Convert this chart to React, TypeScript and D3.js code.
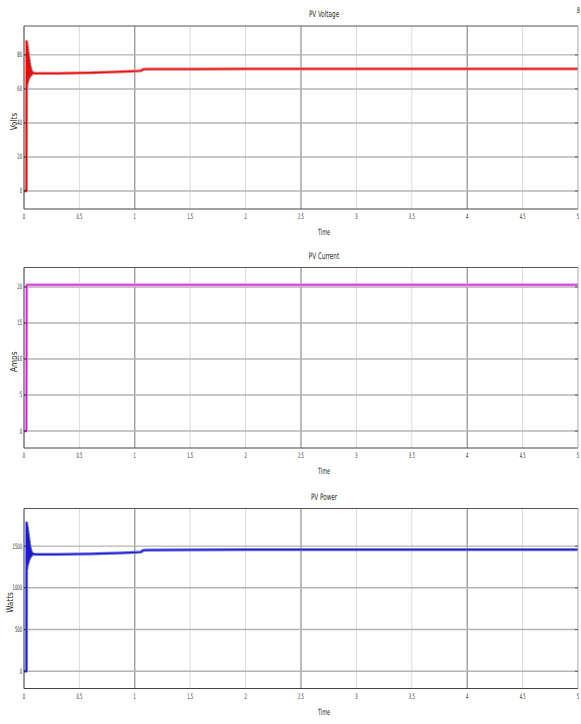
import React from "react";
import * as d3 from "d3";

// time axis
const timeTicks = [0, 0.5, 1, 1.5, 2, 2.5, 3, 3.5, 4, 4.5, 5];
const timeLabels = ["0", "0.5", "1", "1.5", "2", "2.5", "3", "3.5", "4", "4.5", "5"];

// PV voltage [time, volts]
const voltageData: [number, number][] = [
  [0, 0], [0.022, 0], [0.024, 88], [0.026, 61], [0.028, 86.5], [0.03, 63],
  [0.032, 85], [0.034, 64], [0.036, 83], [0.038, 65], [0.04, 81], [0.042, 66],
  [0.044, 79], [0.046, 66.5], [0.048, 77], [0.05, 67], [0.052, 75], [0.054, 67.5],
  [0.056, 73.5], [0.058, 68], [0.06, 72.5], [0.062, 68], [0.064, 71.5], [0.066, 68.5],
  [0.068, 70.8], [0.07, 68.6], [0.072, 70.2], [0.075, 68.8], [0.08, 69.6], [0.1, 69.2],
  [0.3, 69.2], [0.6, 69.5], [0.9, 70.2], [1.04, 70.6], [1.06, 70.8], [1.075, 71.5],
  [1.1, 71.6], [1.5, 71.7], [2, 71.8], [3, 71.8], [5, 71.8],
];
const voltageTicks = [0, 20, 40, 60, 80];

// PV current [time, amps]
const currentData: [number, number][] = [
  [0, 0], [0.022, 0], [0.025, 20.3], [1, 20.3], [3, 20.3], [5, 20.3],
];
const currentTicks = [0, 5, 10, 15, 20];

// PV power [time, watts]
const powerData: [number, number][] = [
  [0, 0], [0.022, 0], [0.024, 1780], [0.026, 1230], [0.028, 1750], [0.03, 1260],
  [0.032, 1720], [0.034, 1280], [0.036, 1680], [0.038, 1300], [0.04, 1640], [0.042, 1320],
  [0.044, 1600], [0.046, 1335], [0.048, 1560], [0.05, 1350], [0.052, 1520], [0.054, 1360],
  [0.056, 1490], [0.058, 1370], [0.06, 1465], [0.062, 1378], [0.064, 1445], [0.066, 1385],
  [0.068, 1430], [0.07, 1390], [0.072, 1420], [0.075, 1395], [0.08, 1410], [0.1, 1400],
  [0.3, 1400], [0.6, 1408], [0.9, 1420], [1.04, 1427], [1.06, 1432], [1.075, 1450],
  [1.1, 1452], [1.5, 1455], [2, 1458], [3, 1458], [5, 1458],
];
const powerTicks = [0, 500, 1000, 1500];

const W = 581;
const H = 724;
const LEFT = 24;
const RIGHT = 578;
const FONT = "'DejaVu Sans Condensed', 'Liberation Sans', sans-serif";

// squeezed text, the scanned figure has very narrow lettering
function Txt(props: {
  x: number;
  y: number;
  size: number;
  sx: number;
  anchor?: string;
  rotate?: number;
  children: React.ReactNode;
}) {
  const rot = props.rotate ? ` rotate(${props.rotate})` : "";
  return (
    <text
      transform={`translate(${props.x},${props.y})${rot} scale(${props.sx},1)`}
      fontSize={props.size}
      textAnchor={props.anchor || "middle"}
      fill="#2a2a2a"
      fontFamily={FONT}
    >
      {props.children}
    </text>
  );
}

type PanelProps = {
  top: number;
  bottom: number;
  domain: [number, number];
  data: [number, number][];
  ticks: number[];
  color: string;
  halo: string;
  title: string;
  ylabel: string;
  ylabelX: number;
};

function Panel(p: PanelProps) {
  const x = d3.scaleLinear().domain([0, 5]).range([LEFT, RIGHT]);
  const y = d3.scaleLinear().domain(p.domain).range([p.bottom, p.top]);
  const line = d3
    .line<[number, number]>()
    .x((d) => x(d[0]))
    .y((d) => y(d[1]));
  const path = line(p.data) || "";
  const darkV = [1, 2.5, 4];
  const cx = (LEFT + RIGHT) / 2 + 23;
  return (
    <g>
      <Txt x={cx} y={p.top - 9} size={9} sx={0.7}>
        {p.title}
      </Txt>
      {timeTicks.map((t) => (
        <line
          key={"v" + t}
          x1={x(t)}
          x2={x(t)}
          y1={p.top}
          y2={p.bottom}
          stroke={darkV.includes(t) ? "#6a6a6a" : "#d2d2d2"}
          strokeWidth={darkV.includes(t) ? 0.9 : 0.8}
        />
      ))}
      {p.ticks.map((v) => (
        <line key={"h" + v} x1={LEFT} x2={RIGHT} y1={y(v)} y2={y(v)} stroke="#b4b4b4" strokeWidth={1.4} />
      ))}
      <path d={path} fill="none" stroke={p.halo} strokeWidth={3.2} strokeLinejoin="round" />
      <path d={path} fill="none" stroke={p.color} strokeWidth={1.3} strokeLinejoin="round" />
      <line x1={LEFT} x2={RIGHT} y1={p.top} y2={p.top} stroke="#555" strokeWidth={1} />
      <line x1={LEFT} x2={RIGHT} y1={p.bottom} y2={p.bottom} stroke="#444" strokeWidth={1} />
      <line x1={LEFT} x2={LEFT} y1={p.top} y2={p.bottom} stroke="#444" strokeWidth={1} />
      <line x1={RIGHT} x2={RIGHT} y1={p.top} y2={p.bottom} stroke="#bbb" strokeWidth={1} />
      {p.ticks.map((v) => (
        <g key={"t" + v}>
          <line x1={LEFT} x2={LEFT + 3} y1={y(v)} y2={y(v)} stroke="#333" strokeWidth={1} />
          <line x1={RIGHT - 3} x2={RIGHT} y1={y(v)} y2={y(v)} stroke="#555" strokeWidth={1} />
          <Txt x={LEFT - 2} y={y(v) + 2.5} size={7.5} sx={0.55} anchor="end">
            {v}
          </Txt>
        </g>
      ))}
      {timeTicks.map((t, i) => (
        <Txt key={"x" + t} x={x(t)} y={p.bottom + 10} size={7.5} sx={0.55}>
          {timeLabels[i]}
        </Txt>
      ))}
      <Txt x={cx} y={p.bottom + 26} size={8.5} sx={0.65}>
        Time
      </Txt>
      <Txt x={p.ylabelX} y={(p.top + p.bottom) / 2 + 4} size={9} sx={0.9} rotate={-90}>
        {p.ylabel}
      </Txt>
    </g>
  );
}

export default function App() {
  return (
    <svg
      width={W}
      height={H}
      viewBox={`0 0 ${W} ${H}`}
      style={{ position: "absolute", left: 0, top: 0, background: "#fff" }}
    >
      <rect width={W} height={H} fill="#fff" />
      <Panel
        top={26}
        bottom={209}
        domain={[-10.6, 97]}
        data={voltageData}
        ticks={voltageTicks}
        color="#e01010"
        halo="#f08080"
        title="PV Voltage"
        ylabel="Volts"
        ylabelX={17}
      />
      <Panel
        top={267.5}
        bottom={448}
        domain={[-2.36, 22.7]}
        data={currentData}
        ticks={currentTicks}
        color="#d21fd2"
        halo="#f0a0f0"
        title="PV Current"
        ylabel="Amps"
        ylabelX={17}
      />
      <Panel
        top={508.5}
        bottom={688.5}
        domain={[-207, 1951]}
        data={powerData}
        ticks={powerTicks}
        color="#1c1ccc"
        halo="#8080e8"
        title="PV Power"
        ylabel="Watts"
        ylabelX={13}
      />
      <Txt x={577} y={13} size={8} sx={0.6} anchor="start">
        B
      </Txt>
    </svg>
  );
}
